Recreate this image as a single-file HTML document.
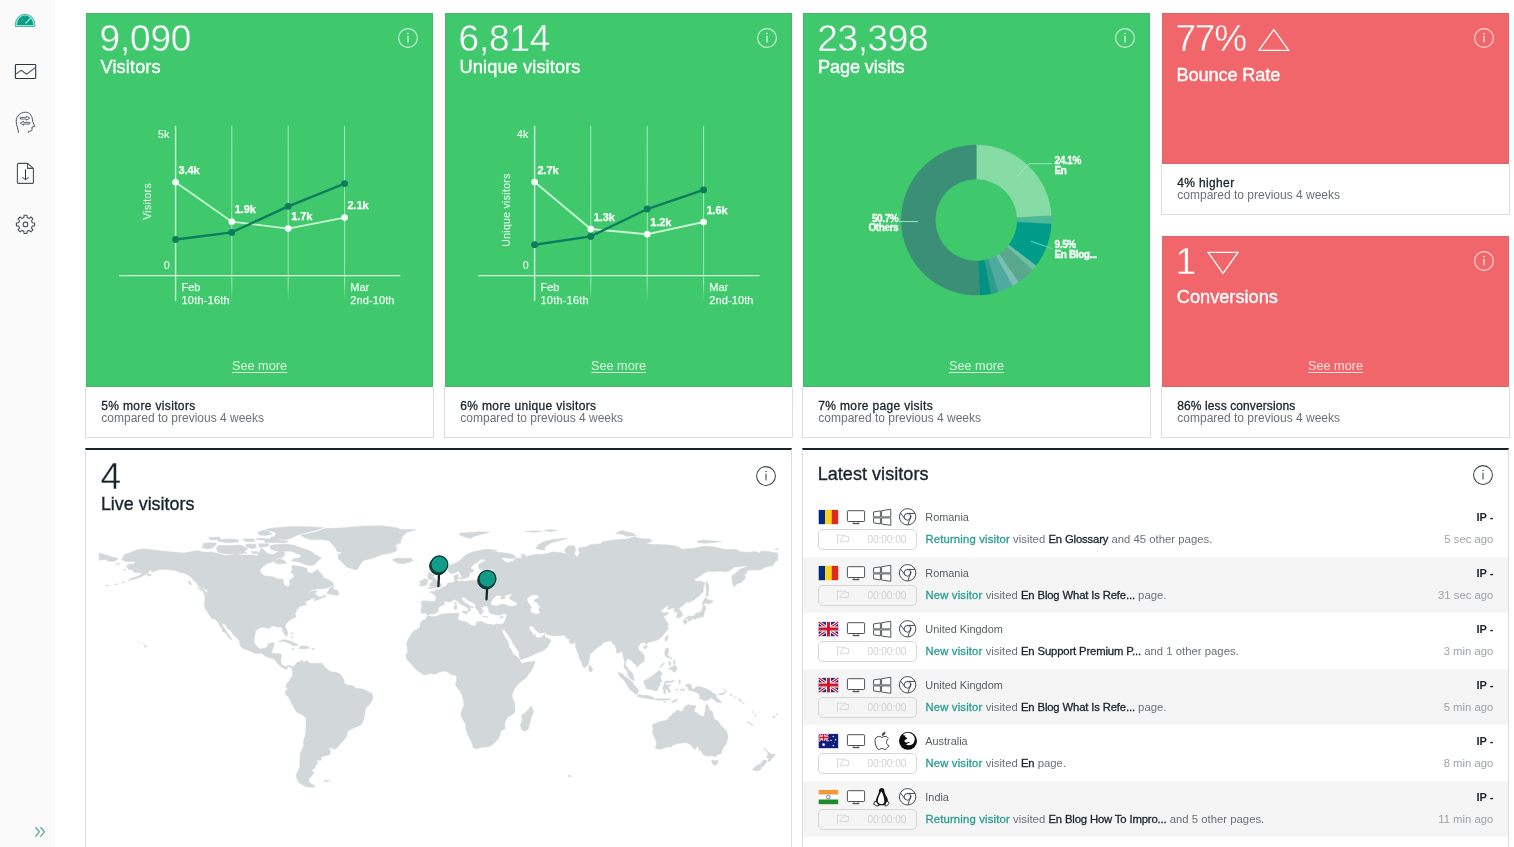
<!DOCTYPE html>
<html lang="en">
<head>
<meta charset="utf-8">
<title>Dashboard</title>
<style>
*{box-sizing:border-box;margin:0;padding:0}
html,body{width:1514px;height:847px;overflow:hidden;background:#fff}
body{font-family:"Liberation Sans",sans-serif;color:#1a242d;position:relative}
.abs{position:absolute}
#side{left:0;top:0;width:54.5px;height:847px;background:#fafafa}
#side svg{position:absolute;overflow:visible}
.card{position:absolute;width:349px;background:#fff;border:1px solid #dcdcdc}
.card .top{position:absolute;left:-1px;top:-1px;width:349px;color:#fff;box-shadow:inset 0 1px 0 rgba(120,120,120,.25),inset 0 -1px 0 rgba(120,120,120,.25)}
.card .top::before{content:"";position:absolute;left:0;top:0;width:1px;height:100%;background:#fff;box-shadow:1px 0 0 rgba(120,120,120,.25);z-index:3}
.card .top::after{content:"";position:absolute;right:0;top:0;width:1px;height:100%;background:#fff;box-shadow:-1px 0 0 rgba(120,120,120,.25);z-index:3}
.green{background:#3fc96c}
.red{background:#f0666a}
.big{position:absolute;left:14.6px;font-size:37px;line-height:40px;white-space:nowrap;letter-spacing:-0.2px;-webkit-text-stroke:0.4px #3fc96c}
.red .big{-webkit-text-stroke-color:#f0666a;letter-spacing:-1.3px}
.panel .big{-webkit-text-stroke-color:#fff}
.lbl{position:absolute;left:15.5px;font-size:18.2px;line-height:22px;white-space:nowrap;letter-spacing:0.12px;-webkit-text-stroke:0.35px currentColor}
.info{position:absolute;width:20px;height:20px;overflow:visible}
.more{position:absolute;left:0;width:100%;text-align:center;font-size:12.7px;line-height:16px;color:#d9f5e2;text-decoration:underline;text-underline-offset:2px}
.red .more{color:#fde0e1}
.foot1{position:absolute;left:15.3px;font-size:12px;line-height:14px;white-space:nowrap;color:#1a242d;-webkit-text-stroke:0.3px #1a242d;letter-spacing:0.35px}
.foot2{position:absolute;left:15.3px;font-size:12px;line-height:14px;white-space:nowrap;color:#6b7176}
.chart{position:absolute;left:0;top:0;width:349px;height:374px;overflow:visible}
.chart text{font-family:"Liberation Sans",sans-serif;fill:#fff}
.panel{position:absolute;background:#fff;border-left:1px solid #dcdcdc;border-right:1px solid #dcdcdc;border-top:2.6px solid #1a242d}
.row{position:absolute;left:0;width:705px;height:56px}
.row.alt{background:#f5f5f5}
.row svg{position:absolute;overflow:visible}
.cty{position:absolute;left:122.3px;top:9.1px;font-size:10.9px;line-height:14px;color:#585e63;white-space:nowrap}
.msg{position:absolute;left:122.4px;top:31.3px;font-size:11.3px;line-height:14px;color:#6b7176;white-space:nowrap;letter-spacing:0.02px}
.msg b{font-weight:normal;color:#1a242d;-webkit-text-stroke:0.3px #1a242d;letter-spacing:-0.15px}
.msg i{font-style:normal;color:#2a9d8f;-webkit-text-stroke:0.3px #2a9d8f;letter-spacing:0.17px}
.ip{position:absolute;right:14.7px;top:9.2px;font-size:11px;line-height:14px;font-weight:bold;color:#1a242d;white-space:nowrap}
.ago{position:absolute;right:14.7px;top:31.4px;font-size:11.3px;line-height:14px;color:#9ea3a7;white-space:nowrap}
.tbox{position:absolute;left:15.3px;top:28.4px;width:99px;height:21px;border:1px solid #d6d6d6;border-radius:5px;background:transparent}
.tbox span{position:absolute;left:48.1px;top:2.6px;font-size:10px;line-height:13px;color:#cdd0d2;white-space:nowrap}
</style>
</head>
<body>
<div id="side" class="abs">
<svg style="left:0;top:0" width="55" height="847" viewBox="0 0 55 847">
<path d="M15.3 26.5V24.6A9.8 10.4 0 0 1 34.9 24.6V26.5Z" fill="#86ead6" stroke="#2f9686" stroke-width="0.7"/>
<path d="M17 24.9A8.1 9.5 0 0 1 33.2 24.9Z" fill="#0e9a88"/>
<path d="M25.4 23.6L31.3 17.6" stroke="#86ead6" stroke-width="1.4" fill="none"/>
<path d="M21.5 18.2L23.6 21.2M25 15.6V17.2M18.6 21.6L20 22.4" stroke="#3cb9a6" stroke-width="0.8" fill="none"/>
<rect x="15.4" y="64.5" width="20.3" height="14" rx="0.8" fill="#fff" stroke="#2c363d" stroke-width="1.1"/>
<path d="M15.4 74.4L21.3 70.2L26.5 74.2L35.7 67.4" fill="none" stroke="#4d575d" stroke-width="1.1" stroke-linejoin="round"/>
<path d="M18.4 132.8C18.6 129 16.2 126 16.2 121.5C16.2 116 20.5 112.2 25.6 112.2C30 112.2 32.6 116.4 32.5 121.2L34.8 126.4L32 127V130C32 131.2 30 131.2 28.6 131.3L28.4 132.8" fill="none" stroke="#4d575d" stroke-width="1" stroke-linejoin="round"/>
<path d="M20.2 117.4H26.4V116.2L29.8 118.2L26.4 120.2V119H20.2ZM29.8 122.4H23.6V121.2L20.2 123.2L23.6 125.2V124H29.8Z" fill="#fff" stroke="#3d474d" stroke-width="0.8" stroke-linejoin="round"/>
<path d="M18.4 163.4H27.6L33.4 168.4V182.4A1 1 0 0 1 32.4 183.4H18.4A1 1 0 0 1 17.4 182.4V164.4A1 1 0 0 1 18.4 163.4ZM27.6 163.4V168.4H33.4" fill="#fff" stroke="#4a5157" stroke-width="1.1" stroke-linejoin="round"/>
<path d="M25.5 169.3V179.6M22.3 177.2L25.5 179.8L28.7 177.2" fill="none" stroke="#2c363d" stroke-width="1"/>
<path d="M23.87 217.59L24.06 215.31L26.94 215.31L27.13 217.59L29.16 218.43L30.91 216.96L32.94 218.99L31.47 220.74L32.31 222.77L34.59 222.96L34.59 225.84L32.31 226.03L31.47 228.06L32.94 229.81L30.91 231.84L29.16 230.37L27.13 231.21L26.94 233.49L24.06 233.49L23.87 231.21L21.84 230.37L20.09 231.84L18.06 229.81L19.53 228.06L18.69 226.03L16.41 225.84L16.41 222.96L18.69 222.77L19.53 220.74L18.06 218.99L20.09 216.96L21.84 218.43Z" fill="none" stroke="#4a5157" stroke-width="1.1" stroke-linejoin="round"/>
<circle cx="25.5" cy="224.4" r="2.3" fill="#fff" stroke="#4a5157" stroke-width="1.1"/>
<path d="M35.4 827.2L39.4 831.8L35.4 836.6M40.4 827.2L44.4 831.8L40.4 836.6" fill="none" stroke="#5aa89a" stroke-width="1.3"/>
</svg>
</div>

<!-- CARD 1 -->
<div class="card" style="left:85px;top:13px;height:425px">
 <div class="top green" style="height:374px">
  <div class="big" style="top:6.3px">9,090</div>
  <div class="lbl" style="top:43px">Visitors</div>
  
  <svg class="chart" viewBox="0 0 349 374">
<defs><linearGradient id="gfV" x1="0" y1="0" x2="0" y2="1"><stop offset="0" stop-color="#fff" stop-opacity="0.55"/><stop offset="0.9" stop-color="#fff" stop-opacity="0.5"/><stop offset="1" stop-color="#fff" stop-opacity="0"/></linearGradient></defs>
<rect x="146.3" y="113" width="1" height="175" fill="url(#gfV)"/>
<rect x="202.7" y="113" width="1" height="175" fill="url(#gfV)"/>
<rect x="259.1" y="113" width="1" height="175" fill="url(#gfV)"/>
<path d="M90.6 112.8V287.8" stroke="#d2f5de" stroke-width="1.4" fill="none"/>
<path d="M34.1 262.6H315.4" stroke="#d2f5de" stroke-width="1.3" fill="none"/>
<polyline points="90.6,169.2 146.8,208.7 203.2,215.6 259.6,204.6" fill="none" stroke="#c8f3d5" stroke-width="1.9"/>
<polyline points="90.6,226.5 146.8,219.4 203.2,193.3 259.6,170.6" fill="none" stroke="#0d7c5d" stroke-width="2.4"/>
<circle cx="90.6" cy="226.5" r="3.4" fill="#0d7c5d"/>
<circle cx="146.8" cy="219.4" r="3.4" fill="#0d7c5d"/>
<circle cx="203.2" cy="193.3" r="3.4" fill="#0d7c5d"/>
<circle cx="259.6" cy="170.6" r="3.4" fill="#0d7c5d"/>
<circle cx="90.6" cy="169.2" r="3.3" fill="#fbfffc"/>
<circle cx="146.8" cy="208.7" r="3.3" fill="#fbfffc"/>
<circle cx="203.2" cy="215.6" r="3.3" fill="#fbfffc"/>
<circle cx="259.6" cy="204.6" r="3.3" fill="#fbfffc"/>
<text x="93.6" y="160.7" font-size="11" font-weight="bold" letter-spacing="-0.1" stroke="#fff" stroke-width="0.25">3.4k</text>
<text x="149.8" y="200.2" font-size="11" font-weight="bold" letter-spacing="-0.1" stroke="#fff" stroke-width="0.25">1.9k</text>
<text x="206.2" y="207.1" font-size="11" font-weight="bold" letter-spacing="-0.1" stroke="#fff" stroke-width="0.25">1.7k</text>
<text x="262.6" y="196.1" font-size="11" font-weight="bold" letter-spacing="-0.1" stroke="#fff" stroke-width="0.25">2.1k</text>
<text x="84.3" y="125.1" font-size="10.7" text-anchor="end" fill-opacity="0.88" stroke="#fff" stroke-width="0.2" stroke-opacity="0.7">5k</text>
<text x="84.7" y="255.5" font-size="10.7" text-anchor="end" fill-opacity="0.88" stroke="#fff" stroke-width="0.2" stroke-opacity="0.7">0</text>
<text transform="translate(66.2 188.4) rotate(-90)" font-size="10.4" text-anchor="middle" letter-spacing="0.35" fill-opacity="0.82" stroke="#fff" stroke-width="0.2" stroke-opacity="0.6">Visitors</text>
<text x="96.5" y="277.8" font-size="11" fill-opacity="0.88" stroke="#fff" stroke-width="0.25" stroke-opacity="0.8">Feb</text>
<text x="96.5" y="290.6" font-size="11" fill-opacity="0.88" stroke="#fff" stroke-width="0.25" stroke-opacity="0.8" letter-spacing="0.2">10th-16th</text>
<text x="265.3" y="277.8" font-size="11" fill-opacity="0.88" stroke="#fff" stroke-width="0.25" stroke-opacity="0.8">Mar</text>
<text x="265.3" y="290.6" font-size="11" fill-opacity="0.88" stroke="#fff" stroke-width="0.25" stroke-opacity="0.8" letter-spacing="0.1">2nd-10th</text>
</svg><svg class="info" style="left:313px;top:15.1px" viewBox="0 0 20 20"><circle cx="10" cy="10" r="9.4" fill="none" stroke="#fff" stroke-opacity="0.72" stroke-width="1.2"/><circle cx="10" cy="5.5" r="0.85" fill="#fff" fill-opacity="0.9"/><path d="M10 7.8V14.6" stroke="#fff" stroke-opacity="0.9" stroke-width="1.2" fill="none"/></svg>
  <div class="more" style="top:344.9px">See more</div>
 </div>
 <div class="foot1" style="top:385.2px">5% more visitors</div>
 <div class="foot2" style="top:397.1px">compared to previous 4 weeks</div>
</div>

<!-- CARD 2 -->
<div class="card" style="left:444px;top:13px;height:425px">
 <div class="top green" style="height:374px">
  <div class="big" style="top:6.3px">6,814</div>
  <div class="lbl" style="top:43px">Unique visitors</div>
  <svg class="chart" viewBox="0 0 349 374">
<defs><linearGradient id="gfU" x1="0" y1="0" x2="0" y2="1"><stop offset="0" stop-color="#fff" stop-opacity="0.55"/><stop offset="0.9" stop-color="#fff" stop-opacity="0.5"/><stop offset="1" stop-color="#fff" stop-opacity="0"/></linearGradient></defs>
<rect x="146.3" y="113" width="1" height="175" fill="url(#gfU)"/>
<rect x="202.7" y="113" width="1" height="175" fill="url(#gfU)"/>
<rect x="259.1" y="113" width="1" height="175" fill="url(#gfU)"/>
<path d="M90.6 112.8V287.8" stroke="#d2f5de" stroke-width="1.4" fill="none"/>
<path d="M34.1 262.6H315.4" stroke="#d2f5de" stroke-width="1.3" fill="none"/>
<polyline points="90.6,169 146.8,216 203.2,221.3 259.6,209" fill="none" stroke="#c8f3d5" stroke-width="1.9"/>
<polyline points="90.6,231.7 146.8,223.4 203.2,196 259.6,176.9" fill="none" stroke="#0d7c5d" stroke-width="2.4"/>
<circle cx="90.6" cy="231.7" r="3.4" fill="#0d7c5d"/>
<circle cx="146.8" cy="223.4" r="3.4" fill="#0d7c5d"/>
<circle cx="203.2" cy="196" r="3.4" fill="#0d7c5d"/>
<circle cx="259.6" cy="176.9" r="3.4" fill="#0d7c5d"/>
<circle cx="90.6" cy="169" r="3.3" fill="#fbfffc"/>
<circle cx="146.8" cy="216" r="3.3" fill="#fbfffc"/>
<circle cx="203.2" cy="221.3" r="3.3" fill="#fbfffc"/>
<circle cx="259.6" cy="209" r="3.3" fill="#fbfffc"/>
<text x="93.6" y="160.5" font-size="11" font-weight="bold" letter-spacing="-0.1" stroke="#fff" stroke-width="0.25">2.7k</text>
<text x="149.8" y="207.5" font-size="11" font-weight="bold" letter-spacing="-0.1" stroke="#fff" stroke-width="0.25">1.3k</text>
<text x="206.2" y="212.8" font-size="11" font-weight="bold" letter-spacing="-0.1" stroke="#fff" stroke-width="0.25">1.2k</text>
<text x="262.6" y="200.5" font-size="11" font-weight="bold" letter-spacing="-0.1" stroke="#fff" stroke-width="0.25">1.6k</text>
<text x="84.3" y="125.1" font-size="10.7" text-anchor="end" fill-opacity="0.88" stroke="#fff" stroke-width="0.2" stroke-opacity="0.7">4k</text>
<text x="84.7" y="255.5" font-size="10.7" text-anchor="end" fill-opacity="0.88" stroke="#fff" stroke-width="0.2" stroke-opacity="0.7">0</text>
<text transform="translate(66.2 197) rotate(-90)" font-size="10.4" text-anchor="middle" letter-spacing="0.35" fill-opacity="0.82" stroke="#fff" stroke-width="0.2" stroke-opacity="0.6">Unique visitors</text>
<text x="96.5" y="277.8" font-size="11" fill-opacity="0.88" stroke="#fff" stroke-width="0.25" stroke-opacity="0.8">Feb</text>
<text x="96.5" y="290.6" font-size="11" fill-opacity="0.88" stroke="#fff" stroke-width="0.25" stroke-opacity="0.8" letter-spacing="0.2">10th-16th</text>
<text x="265.3" y="277.8" font-size="11" fill-opacity="0.88" stroke="#fff" stroke-width="0.25" stroke-opacity="0.8">Mar</text>
<text x="265.3" y="290.6" font-size="11" fill-opacity="0.88" stroke="#fff" stroke-width="0.25" stroke-opacity="0.8" letter-spacing="0.1">2nd-10th</text>
</svg><svg class="info" style="left:313px;top:15.1px" viewBox="0 0 20 20"><circle cx="10" cy="10" r="9.4" fill="none" stroke="#fff" stroke-opacity="0.72" stroke-width="1.2"/><circle cx="10" cy="5.5" r="0.85" fill="#fff" fill-opacity="0.9"/><path d="M10 7.8V14.6" stroke="#fff" stroke-opacity="0.9" stroke-width="1.2" fill="none"/></svg>
  <div class="more" style="top:344.9px">See more</div>
 </div>
 <div class="foot1" style="top:385.2px">6% more unique visitors</div>
 <div class="foot2" style="top:397.1px">compared to previous 4 weeks</div>
</div>

<!-- CARD 3 -->
<div class="card" style="left:802px;top:13px;height:425px">
 <div class="top green" style="height:374px">
  <div class="big" style="top:6.3px;left:15.2px;letter-spacing:-0.35px">23,398</div>
  <div class="lbl" style="top:43px;left:16.1px;letter-spacing:-0.15px">Page visits</div>
  <svg class="chart" viewBox="0 0 349 374">
<path d="M174.3 131.9A75.1 75.1 0 0 1 249.28 202.68L215.23 204.64A41 41 0 0 0 174.3 166Z" fill="#87dca6" stroke="#87dca6" stroke-width="0.4"/>
<path d="M249.28 202.68A75.1 75.1 0 0 1 249.29 211.06L215.24 209.22A41 41 0 0 0 215.23 204.64Z" fill="#4db798" stroke="#4db798" stroke-width="0.4"/>
<path d="M249.29 211.06A75.1 75.1 0 0 1 233.96 252.61L206.87 231.9A41 41 0 0 0 215.24 209.22Z" fill="#009b89" stroke="#009b89" stroke-width="0.4"/>
<path d="M233.96 252.61A75.1 75.1 0 0 1 230.37 256.96L204.91 234.27A41 41 0 0 0 206.87 231.9Z" fill="#6cc0a3" stroke="#6cc0a3" stroke-width="0.4"/>
<path d="M230.37 256.96A75.1 75.1 0 0 1 216.4 269.19L197.29 240.95A41 41 0 0 0 204.91 234.27Z" fill="#5aa78d" stroke="#5aa78d" stroke-width="0.4"/>
<path d="M216.4 269.19A75.1 75.1 0 0 1 210.36 272.87L193.99 242.96A41 41 0 0 0 197.29 240.95Z" fill="#7bbfb2" stroke="#7bbfb2" stroke-width="0.4"/>
<path d="M210.36 272.87A75.1 75.1 0 0 1 196.01 278.89L186.15 246.25A41 41 0 0 0 193.99 242.96Z" fill="#4fab9f" stroke="#4fab9f" stroke-width="0.4"/>
<path d="M196.01 278.89A75.1 75.1 0 0 1 188.89 280.67L182.26 247.22A41 41 0 0 0 186.15 246.25Z" fill="#2b9e8d" stroke="#2b9e8d" stroke-width="0.4"/>
<path d="M188.89 280.67A75.1 75.1 0 0 1 177.58 282.03L176.09 247.96A41 41 0 0 0 182.26 247.22Z" fill="#009182" stroke="#009182" stroke-width="0.4"/>
<path d="M177.58 282.03A75.1 75.1 0 1 1 174.3 131.9L174.3 166A41 41 0 1 0 176.09 247.96Z" fill="#3a8f76" stroke="#3a8f76" stroke-width="0.4"/>
<path d="M214.7 163.7L227 150.7H250" stroke="#9fe8bb" stroke-width="1" fill="none"/>
<path d="M228.9 228.2L250.6 235.9" stroke="#5fd9c4" stroke-width="1" fill="none"/>
<path d="M97 208.6H116" stroke="#9fe8bb" stroke-width="1" fill="none"/>
<text x="252.6" y="150.9" font-size="10" font-weight="bold" letter-spacing="-0.4" stroke="#fff" stroke-width="0.3">24.1%</text>
<text x="252.6" y="160.9" font-size="10" font-weight="bold" letter-spacing="-0.4" stroke="#fff" stroke-width="0.3">En</text>
<text x="252.6" y="234.7" font-size="10" font-weight="bold" letter-spacing="-0.4" stroke="#fff" stroke-width="0.3">9.5%</text>
<text x="252.6" y="244.7" font-size="10" font-weight="bold" letter-spacing="-0.4" stroke="#fff" stroke-width="0.3">En Blog...</text>
<text x="96.3" y="208.6" text-anchor="end" font-size="10" font-weight="bold" letter-spacing="-0.4" stroke="#fff" stroke-width="0.3">50.7%</text>
<text x="96.3" y="218.2" text-anchor="end" font-size="10" font-weight="bold" letter-spacing="-0.4" stroke="#fff" stroke-width="0.3">Others</text>
</svg><svg class="info" style="left:313px;top:15.1px" viewBox="0 0 20 20"><circle cx="10" cy="10" r="9.4" fill="none" stroke="#fff" stroke-opacity="0.72" stroke-width="1.2"/><circle cx="10" cy="5.5" r="0.85" fill="#fff" fill-opacity="0.9"/><path d="M10 7.8V14.6" stroke="#fff" stroke-opacity="0.9" stroke-width="1.2" fill="none"/></svg>
  <div class="more" style="top:344.9px">See more</div>
 </div>
 <div class="foot1" style="top:385.2px">7% more page visits</div>
 <div class="foot2" style="top:397.1px">compared to previous 4 weeks</div>
</div>

<!-- CARD 4 -->
<div class="card" style="left:1161px;top:13px;height:202px">
 <div class="top red" style="height:151px">
  <div class="big" style="top:6.3px">77%</div>
  <div class="lbl" style="top:50.6px;letter-spacing:-0.13px">Bounce Rate</div>
  <svg class="chart" viewBox="0 0 349 374"><path d="M97.9 37.3L112.8 16.5L127.7 37.3Z" fill="none" stroke="#fff" stroke-width="1.3" stroke-linejoin="miter"/></svg><svg class="info" style="left:313px;top:15.1px" viewBox="0 0 20 20"><circle cx="10" cy="10" r="9.4" fill="none" stroke="#fff" stroke-opacity="0.72" stroke-width="1.2"/><circle cx="10" cy="5.5" r="0.85" fill="#fff" fill-opacity="0.9"/><path d="M10 7.8V14.6" stroke="#fff" stroke-opacity="0.9" stroke-width="1.2" fill="none"/></svg>
 </div>
 <div class="foot1" style="top:162.3px">4% higher</div>
 <div class="foot2" style="top:174.2px">compared to previous 4 weeks</div>
</div>

<!-- CARD 5 -->
<div class="card" style="left:1161px;top:236px;height:202px">
 <div class="top red" style="height:151px">
  <div class="big" style="top:6.3px">1</div>
  <div class="lbl" style="top:49.9px;left:15.8px;letter-spacing:0">Conversions</div>
  <svg class="chart" viewBox="0 0 349 374"><path d="M47.1 16.3L77.1 16.3L62 37.3Z" fill="none" stroke="#fff" stroke-width="1.3" stroke-linejoin="miter"/></svg><svg class="info" style="left:313px;top:15.3px" viewBox="0 0 20 20"><circle cx="10" cy="10" r="9.4" fill="none" stroke="#fff" stroke-opacity="0.72" stroke-width="1.2"/><circle cx="10" cy="5.5" r="0.85" fill="#fff" fill-opacity="0.9"/><path d="M10 7.8V14.6" stroke="#fff" stroke-opacity="0.9" stroke-width="1.2" fill="none"/></svg>
  <div class="more" style="top:121.9px">See more</div>
 </div>
 <div class="foot1" style="top:162.3px;letter-spacing:0.1px">86% less conversions</div>
 <div class="foot2" style="top:174.2px">compared to previous 4 weeks</div>
</div>

<!-- LIVE PANEL -->
<div class="panel" style="left:85px;top:448.2px;width:707px;height:410px">
 <div class="big" style="top:6.35px;color:#1a242d">4</div>
 <div class="lbl" style="top:42.7px;left:14.9px;color:#1a242d;font-size:17.9px;letter-spacing:0">Live visitors</div>
 <svg class="abs" style="left:0;top:0;overflow:visible" width="706" height="396" viewBox="0 0 706 396">
<path fill="#d2d7d9" stroke="#d2d7d9" stroke-width="0.5" stroke-linejoin="round" d="M35.8 109.5L38.6 104.5L45.2 102.2L50.9 99.9L57.5 98.8L66 99.7L73.5 100.7L86.7 102L98 103.1L107.4 101.2L111.2 100.5L116.9 102L126.3 102.2L135.7 104.5L138.6 105.4L145.2 105L148.9 103.9L156.5 105L167.8 105L171.5 106.2L172.5 103.5L175.3 97.9L179.1 101.2L181.9 103.7L186.6 104.5L190.4 102.6L193.2 101.6L197.9 102L199.2 104.5L196 107.8L190.4 108.4L187.6 111.6L181.9 113.3L177.2 116.3L174.2 120.1L174.2 122.4L178.1 125.8L186.6 126.7L192.3 129L197 129.1L197.6 133.3L199.4 135.9L202.5 136.5L204 134.2L203 130.5L207.4 127.6L208.1 124.8L204.9 122.4L206.4 119.2L205.5 115.6L211.1 115.8L216.8 117.1L220.6 118.2L221.5 122L225.8 123.3L230 120.5L230.9 119.3L235.6 123.9L237.5 127.6L243.2 130.3L246.9 132.9L247.5 135.2L245.1 136.3L239.4 138.6L231.9 138.6L226.6 139.7L222.4 142.3L219.6 144.2L222.4 143.1L226.2 141L230.9 140.5L230.9 142.2L228.1 142.7L230 144.6L231.9 146.5L236.6 147.1L238.5 144.6L239.6 146.5L236.6 148L231.9 149.5L228.1 151L228.1 149.3L230.9 147.6L226.2 148.4L222.4 150.3L219.6 151.6L219 153.1L220.6 154L220.6 154.8L217.7 155.2L213 156.7L212.6 158.7L210.2 159.3L210.9 160.8L209.2 163.3L209.2 164.4L210.2 166.8L207.4 168.2L204.5 169.5L201.7 171.9L199.2 174.8L199.2 176.7L200.8 179.9L201.7 182.7L201.1 185.7L199.4 185.7L198.3 183.6L196.4 180.8L196.6 178.5L194.2 176.7L191.3 177.2L188.5 175.9L184.7 176.1L184.2 178.3L181 178L176.3 177.2L173.4 178.2L169.7 180.8L169.1 184.2L168.3 188L168.1 191.2L169.3 194.6L171.5 197.4L174.4 198.9L178.1 198.3L181 197.4L181.9 194L185.7 192.7L188.5 192.9L187.6 196.4L186.6 199.3L185.3 203L190.4 203.4L194.2 203.6L195.7 204.9L195.1 208.7L194.7 212.5L196.4 214.9L198.9 216.2L201.7 215.9L203.6 215.3L206.6 216.8L207 218.3L204.9 217.9L202.6 216.6L201.1 217.7L201.1 219.4L198.9 218.9L196 217.6L194.7 216.2L192.3 214.3L190.8 212.8L189.4 210.6L187.6 208.7L185.7 208.3L182.9 207.4L179.1 205.9L175.3 203L172.5 203.4L169.7 203.4L165.9 201.9L161.2 200L157.4 198.7L154.6 196.4L153.6 194.6L154 192.7L152.7 189.8L149.9 187L147 184.8L146.1 182.3L144.2 180.4L141.4 178.5L139.5 174.8L136.3 173.4L136.3 175.7L138.6 178.5L140.4 181.4L142.7 184.2L144.2 187L146.1 189.5L145.2 190L143.3 188L141.4 186.1L140.4 183.6L137.6 181.9L135.7 180.4L136.7 179.1L134.2 176.7L132.9 173.8L131.6 171.7L129.1 169.1L125.4 168.2L123.5 165.3L121.8 162.5L120.6 160.6L118.8 157.8L118.2 154L118.8 150.3L118.8 146.1L117.4 142.2L120.6 142.2L121.6 144L121.6 140.8L118.8 138.9L115 137.4L112.2 136.1L111.2 133.3L107.4 130.5L105.6 127.6L101.8 124.8L98 122.9L94.3 122.4L89.5 120.5L84.8 120.1L79.2 119.5L73.5 119.2L69.8 121L66 122L65 119.2L68.8 117.8L64.1 120.1L62.2 122.9L57.5 125.4L53.7 127.6L49 129L44.3 129.9L41.9 130.5L45.2 128.2L50 127.1L54.7 124.8L55.6 122.6L52.8 122.7L48.1 122.6L47.1 120.1L42.4 119.2L40.5 116.3L42.4 114.4L49 113.5L49 111.6L45.2 111.6L39.6 111.6ZM214.9 85.2L228.1 82.4L239.4 78.6L258.2 77.7L277.1 76L295.9 75.8L311 77.7L314.8 79.6L329.9 79.6L320.5 82.4L316.7 86.2L314.8 89.9L314.8 92.8L309.1 95.6L311 98.4L310.1 100.9L303.5 103.5L295.9 104.6L290.3 106.9L282.8 109.2L277.1 110.7L274.3 114.4L271.4 119.2L269.6 120.1L265.8 118.6L261.1 117.6L258.2 114.4L255.4 111.6L252.6 108.8L251.7 105L256.4 102.2L250.7 101.2L249.8 98.4L246.9 94.7L243.2 90.9L235.6 89.4L224.3 89.6L218.7 87.7ZM201.7 94.3L209.2 95.6L216.8 98.4L224.3 100.9L230 105L235.6 107.8L231.9 110.7L229 114.4L224.3 115.8L218.7 114.4L213 112L205.5 111.1L207.4 108.8L214 107.8L214.9 105L205.5 101.2L192.3 101.2L184.7 99.4L183.8 95.6L192.3 94.3ZM132 95.6L145.2 95.6L154.6 95L162.1 98.4L158.3 101.2L161.2 103.1L152.7 103.7L139.5 103.9L132 102.2L130.1 98.4ZM115.9 97.5L120.6 99L125.4 98.4L128.2 96.5L130.1 94.1L131 93.3L124.4 92.8L117.8 93.1ZM184.7 89.4L201.7 89.6L205.5 88.1L211.1 85.2L220.6 82.4L231.9 79.6L237.5 77.7L224.3 76.7L205.5 76.6L186.6 78.1L179.1 79.6L186.6 81.5L190.4 83.3L188.5 86.2L184.7 87.5ZM179.1 92.4L199.8 92.8L202.3 91.3L196 90.3L184.7 89L171.5 88.2L169.7 89.6L178.1 90.3ZM171.5 82.4L177.2 79.9L182.9 81.5L185.7 84.3L179.1 85.6L173.4 84.9ZM172.5 93.7L182.9 93.7L181.9 96.2L173.4 97.5ZM160.2 94.1L169.7 94.1L170.6 97.5L165.9 98.8L160.2 96.5ZM132 89.6L145.2 89L152.7 89.9L152.7 91.8L145.2 92.8L137.6 92.2L132 90.9ZM156.5 89L167.8 88.8L168.7 91.4L160.2 91.8ZM122.5 87.5L133.8 87.1L133.8 89.6L124.4 89.9ZM164.9 101.6L171.5 101.6L172.5 103.5L166.8 103.5ZM188.5 109.7L194.2 108.8L199.8 111.6L199.8 113.5L192.3 114.1L188.5 112.6ZM240.7 143.3L244.1 138L247.9 135.9L246.9 138.9L251.7 140.3L252.6 143.7L252.6 145.2L246.9 144.8ZM110.7 137.6L116.9 138.9L120.1 142L116.9 141.4ZM101.8 131.4L104.2 131.4L105.6 134.8L103.7 134.2ZM61.3 124.2L65.4 123.9L65 125.4L61.6 126.1ZM192.3 191.7L197.9 189.5L203.6 190.8L207.4 192.3L212.6 195.1L206.4 195.7L205.5 194.2L197.9 191.2L194.2 192.1ZM212.3 198.5L215.8 195.7L220.6 195.9L223.6 198.1L218.7 198.9ZM204.9 198.5L208.7 198.9L207.4 199.6ZM225.8 198.3L228.8 198.5L228.1 199.5L225.8 199.3ZM204.5 182.9L207 183.1L206.4 184.2ZM205.1 186.1L206.4 186.5L205.8 188.3ZM306.3 109.7L311 108L318.6 108.4L325.2 108.2L327.1 110.7L324.2 112L317.6 113.7L310.1 112.9L311 111.6L307.3 110.9ZM206.6 216.8L209.2 215.3L210.2 213L213 211.9L216.8 210.2L217.7 212.5L220.6 210.6L224.3 213.4L228.1 213.2L231.9 213.4L235.6 213L237.5 215.3L239.4 217.2L242.2 220L245.1 221.9L250.7 222.3L254.5 224.2L256.4 227.5L258.2 229.8L258.2 233.2L261.1 235.1L267.7 236L269.6 238.3L275.2 238.7L279.9 240.2L282.8 242.2L286.1 243.6L286.9 247.3L286 251.1L282.8 254.9L279.9 257.7L279 261.5L278.6 266.2L277.1 270.9L275.2 274.7L271.4 276.6L267.7 278.1L263.9 279.8L261.1 282.2L260.7 286.5L257.3 290.7L254.1 294.1L251.7 297.3L248.8 299L245.1 298.2L242.4 297.3L244.7 301.4L243.7 304.8L235.6 306.7L235.1 310.1L230 310.5L232.2 313.3L229.6 315.2L229 318L225.3 319.9L228.1 322.7L225.3 326.5L222.4 329.3L223.6 331.8L223.4 332.4L229.6 336.5L226.2 337.4L220.6 336.9L216.8 335L213 332.7L211.1 329.3L210.2 324.6L212.1 320.9L214 316.1L213.6 312.4L214 308.6L214 304.8L215.5 301.1L217.7 295.4L217.7 289.7L219.6 284.1L220 277.5L220.2 270.9L219.8 267.7L216.8 265.2L211.1 262.2L208.7 259.2L207 255.8L204.5 251.1L202.3 246.8L199.8 244.5L199.2 241.7L201.1 239.6L201.7 237.5L199.8 237.3L200.2 235.1L201.7 232.3L203.6 230.7L204.5 228.5L206.8 225.7L206.4 221.9L206.6 220L205.7 219.6ZM237.5 330.3L243.2 330.3L242.2 331.6L238.5 331.6ZM341.4 165.7L348.7 166.8L354.4 164.4L358.2 163.6L365.7 163.5L371.4 162.9L373.2 163.6L371.7 168.5L373.2 170.4L377 171.2L381.3 172.3L384.5 175L388.3 176.1L390.2 174.8L390.6 171.9L395.9 171.6L399.6 173.4L407.2 175L410.9 173.8L413.4 174.4L417 174.2L414 176.8L415.6 180.4L417.5 184.2L419.4 188L422.1 191.7L422.8 194.6L423 197.8L425.3 199.6L427 204L429.8 205.9L433 208.7L434.1 209.6L434.1 211.5L436.4 213.4L441.1 212.1L444.9 211.9L449 210.8L448.6 213.4L446.8 218.1L443 223.8L439.2 228.5L435.4 231.3L431.7 234.7L429.8 237L427 241.7L426 245.5L427 249.2L428.8 253L428.8 257.7L429.2 261.5L427 264.3L422.2 267.1L419.4 270.9L418.5 274.7L419.4 278.4L414.7 281.3L414.3 284.1L412.8 287.9L410 291.6L406.2 295L401.5 296.9L395.9 297.3L390.2 298.8L387.2 297.7L386.4 294.5L384.5 289.7L381.7 285L379.8 278.4L379.8 274.7L376.1 268.1L374.7 264.3L376.1 259.6L377.9 255.8L377.6 251.1L375.7 244.5L375.1 242.6L371.4 237.9L369.5 234.7L370.4 231.3L370.8 227.5L369.1 224.7L365.7 224.9L362.9 222.8L360 221.1L356.3 221.3L352.5 222.5L348.7 224.2L345 223.4L338.4 224.9L335.5 223.4L330.8 220.2L328 217.2L324.8 213.4L321 209.6L319.5 205.5L321.4 203L321.4 197.4L320.5 193.6L322.3 188.9L325.2 184.2L328 181L331.8 178.9L334 176.7L334 173.8L336.5 170.4L339.7 169.1ZM445.4 255.8L447.7 262.4L445.8 265.2L444.9 269L442 279.4L438.3 281.3L435.4 279.4L434.5 274.7L436.4 270L435.4 265.2L439.2 263L443 258.6ZM335.5 163.5L334.6 160.3L335.9 155.9L335 152.1L337.4 150.8L343.1 151.2L349.1 151.4L350.2 147.4L347.8 144L343.6 142L346.8 141.2L349.5 141.6L349.1 139.5L352.9 139.9L355.5 138L357.2 136.9L359.3 136.3L361 134.2L361.5 133.3L365.7 132.4L368.5 131.8L368.9 129.7L367.8 128.4L368 125.8L371 124.8L372.5 124.4L371.9 126.7L372.9 127.6L371 129.5L371.4 130.5L373.2 131.4L376.1 130.7L379.3 131.6L383.6 130.5L387.4 129.9L389.3 130.7L392.1 129.5L392.1 126.1L393.6 124.6L396.2 125.8L398.3 124.8L398.1 123.3L396.8 121.6L401.5 120.9L405.3 120.9L409.4 120.3L406.8 119.2L401.5 119.3L395.9 120.3L392.7 118.8L392.7 116.3L392.5 114.4L398.7 111.1L400.2 109.7L396.8 109.2L394 109.5L392.7 111.6L387.4 114.4L384.9 117.3L384.9 118.8L387.9 120.1L386.4 122L383.6 122.9L383.6 125.8L382.7 127.3L379.8 127.5L379.3 128.8L377 128.8L376.1 127.1L374.2 123.9L373.2 122L372.3 121L370.4 122L367.6 123.7L363.8 123.3L362.3 121L361.9 118.2L362.3 116L365.7 114.4L369.5 113.1L372.3 111.6L375.1 109.4L377 107.3L379.8 105L382.7 103.5L386.4 102L391.1 100.9L395.9 100.1L400.6 99.2L405.3 99.4L410.9 100.7L409.1 101.8L414.7 102.4L420.4 102.9L427.9 105L430.2 107.3L427.9 108.4L422.2 108.2L416.6 107.5L414.7 108.4L417.5 110.1L418.5 111.8L423.2 112.7L424.1 111.4L427.9 111.2L428.5 109.2L432.6 108L435.4 108.4L435.8 106L435.1 104.1L439.2 104.5L440.2 106.9L443 105.8L452.4 103.9L454.3 104.6L461.8 103.5L466.5 101.8L473.1 102.6L478.8 103.5L481.6 104.6L478.8 101.8L478.8 99.4L482.6 95.6L488.2 96L489.7 99.4L488.2 104.1L491 106.9L492 105.4L493.9 103.1L492 98.4L494.8 97.5L499.5 97.1L504.2 94.7L514.6 93.7L516.5 91.8L527.8 89.9L541 89L549.1 86.7L554.2 88.4L563.6 89L566.4 90.9L559.9 93.7L565.5 94.3L574.9 94.7L584.4 95L591.9 96.5L596.6 99.4L601.3 98.4L607 98.4L616.4 96.5L618.3 96L627.7 96.9L635.2 98.4L639 99.6L650.3 99.6L654.1 101.8L663.5 102.2L669.2 101.6L673.9 103.1L674.8 101.2L684.3 101.8L691.8 103.1L691.8 110.3L689 111.4L687.1 115.4L680.5 116.7L673.9 120.1L665.4 120.1L661.6 120.3L660.3 123.9L657.9 124.2L659.8 127.3L657.9 129.9L654.1 132.9L651.3 133.7L647.9 137.1L646.6 133.3L646 129.5L645.8 125.8L648.4 124.2L654.1 119.2L660.7 116.7L660.7 115.4L654.1 116.7L648.4 117.1L643.7 120.5L639 122L635.2 120.9L627.7 121.4L621.1 121.6L616.4 124.4L611.7 127.6L607.5 130.1L611.7 131.4L614.5 131L618.9 132.9L617.3 137.1L617.2 141.8L613.6 145.5L608.9 149.3L603.2 152.5L600.9 151.8L598.9 153.5L597 155.5L592.8 158.2L596.2 163.5L596.4 166.3L592.8 167.8L590.6 168.2L591 164.4L591.5 162.1L588.1 161.6L588.5 158.7L586.8 157.8L581.5 159.7L582.5 156.9L580.6 156.1L576.8 159.3L574.6 159.7L575.9 161.6L577.4 163.1L580.6 162.3L583.4 163.1L579.6 165.3L577.4 167.2L579.3 169.1L580.4 171.7L582.3 173.4L582.3 175.1L580.6 176.3L582.5 177L581.5 179.9L578.7 183.2L576.8 185.7L574 188.3L571.2 190L567.8 191.2L563.6 192.1L560.8 193.2L560.4 194.9L559.3 192.7L557 192.3L554.2 193.6L552.3 196.4L552.3 199.3L555.1 202.1L558 204.9L558.5 208.7L558 211.5L555.1 213.4L553.3 215.1L550.4 217L550 214.3L547.6 213.2L545.7 210.6L542.9 209.3L541.9 207.8L541 209.6L539.5 212.5L539.7 215.7L541.6 217.6L542.9 220.2L545.1 221.5L547.4 224.7L547.6 227.9L548.9 230.6L547.6 230.7L543.5 227.9L541.9 224.7L541.6 221.9L539.1 218.5L537.8 217.6L538.2 214.3L538.5 210.6L537.2 206.8L536.7 203L535.3 201.2L532.5 203L530.3 203L530.4 199.3L529.1 195.9L526.5 193.6L525.5 190.8L523.1 191.2L520.3 192.1L516.5 192.7L516.1 194.9L512.7 196.4L509 199.8L506.1 202.5L503.7 204L503.7 207.8L502.9 211.5L502 213.8L501.4 215.7L499.9 216.4L498.6 217.9L496.7 216.2L495.4 211.5L493.5 208.7L492.6 204.9L490.7 200.2L489.7 197.4L489.5 193.6L488.8 192.1L486.3 194L484.8 193.6L482.6 191.2L485 189.8L481.6 188.9L479.4 186.5L477.9 185.3L473.1 185.5L468.6 185.9L463.7 185.3L460.3 184.2L459.6 182.3L456.2 182.9L453.3 182.9L450.5 180.8L448.3 178.5L446.8 176.3L444.7 176.1L443 177L443.5 178.9L444.5 181L446.8 182.9L447.3 185.1L448.3 186.5L449.2 184.2L449.8 186.1L449.6 187.4L452.4 187.8L455.2 187.4L458.1 184.6L458.6 183.6L459 187L462.8 188.5L465.2 190.8L462.8 194.6L461.3 197.4L459 199.3L456.2 201.2L450.9 203L444.9 205.9L437.3 209.1L434.5 209.3L433.2 205.9L433 202.1L429.8 197.4L426.4 192.7L425.1 188.9L422.6 186.1L421.3 183.2L418.5 180.2L418.1 177.6L417.2 180.8L414.7 178.5L414 176.7L413.4 174.4L417 174.2L418.5 171.4L420 168.2L420.4 165.3L420.5 163.8L417.5 163.8L413.8 165.2L410 164.8L407.2 164L404.3 163.5L402.5 160.6L402.8 158.7L401.9 157.8L401.5 156.3L397.7 156.3L396.8 157.4L395.5 157L395.5 159.1L397.7 161.2L396.2 161.8L395.9 164.4L393.4 163.8L392.5 161.2L390.2 158.7L389.1 156.9L389.3 154.4L386.4 152.5L382.7 151.2L380.8 149.3L378.9 148L378.1 147.1L375.9 147.8L375.9 149.9L378.1 151.2L379.3 153.3L382.7 154.2L382.7 155.2L387.4 157.4L387.2 158.2L384.5 156.9L383.8 158.4L384.7 159.7L383 161.6L382.1 161.6L382.3 158.7L380.8 157.4L378.9 156.3L376.1 155L373.2 153.1L371.9 151.2L369.1 149.5L366.6 150.6L363.8 152L360 151.2L358.2 152.1L358.5 154.4L354 156.3L351.9 158.7L352.9 160.3L351.2 162.3L348.7 163.8L344 164L342.3 165.2L340.6 164.2L339.3 163.1ZM13.2 103.1L18.9 104.6L26.4 106.9L32.1 108.4L31.1 109.7L27.3 111.6L21.7 111.1L20.7 109.7L16 109.7L13.2 110.3ZM341.8 138.8L345.9 138.4L350.6 137.6L355 136.7L355.7 133.9L353.1 133.3L352.5 132L350.2 130.3L349.3 128.2L348.4 127.6L346.5 127.6L348.7 124.6L345.9 124.4L345 124.6L346.7 122.7L343.1 122.7L341.8 124.8L341.8 126.7L342.1 128.6L343.5 129.5L345.9 129.7L346.8 131.4L346.8 132.5L344 132.7L344.4 134.2L342.7 135.6L345.9 136.1L346.8 136.7L344 137.1ZM333.6 135.9L337.4 135.7L340.6 134.8L341.2 132.4L342.1 130.5L340.8 129.1L337.4 129.1L336.5 130.5L333.6 131L334 132.7L335 134L333.1 135ZM373.2 83.3L382.7 82.4L394 81.8L403.4 82.2L397.7 83.7L392.1 85.2L388.3 86.2L384.5 88.6L378.9 87.1L374.2 85.2ZM439.2 81.5L446.8 80.7L456.2 81.3L448.6 82.2ZM458.1 80.5L465.6 79.6L471.3 80.5L463.7 81.5ZM449.6 98.4L452.4 94.7L458.1 91.4L467.5 89.4L481.6 88.2L475 90.3L465.6 92.8L460.9 95.6L458.1 98.4L459.9 99.9L454.3 99.7ZM529.7 83.3L535.3 80.5L546.7 83.3L550.4 85.6L541 86.2L535.3 84.3ZM610.7 91.3L618.3 89.9L625.8 90.9L635.2 91.4L629.6 92.2L618.3 93.3L612.6 92.8ZM689 99.4L691.8 98.4L691.8 99.7ZM620.2 130.8L622.1 133.3L622.6 137.1L623 139.9L621.7 142.7L623 145L620.2 146.5L620.2 142.7L620.2 138.9L619.8 135.2ZM616 153.1L617.3 151.6L619.4 147.6L622.1 149.7L626.4 150.4L626.8 151.8L623 154L619.2 153.1L617.3 155ZM618.9 155.3L620.2 158.7L618.3 161.6L618.3 164.4L617.3 166.8L614.5 167.2L612.6 168L610.7 168L608.9 170.1L607 168.2L603.2 168.5L599.4 169.1L599.4 168.2L602.3 166.3L607.9 166.1L610.4 163.1L613.6 162.5L615.5 160.6L616.4 157.8L617 155.5ZM597 170.4L599.4 169.3L601.3 171L600.4 173.8L598.5 174.6L597.9 171.9ZM602.3 169.1L606 168.7L605.7 169.9L603.2 171.4L601.9 170.4ZM580.6 185.7L582.5 186.1L581.5 188.9L580.2 191.7L579.1 189.8L579.1 188ZM557.4 196.8L560.8 195.5L561.7 196.3L559.9 198.7L557.4 198.1ZM579.6 198.3L582.8 198.5L582.5 202.1L581.5 204.9L583.4 206.8L586.2 208.7L585.3 209.3L582.5 207.2L580.6 207.4L579.6 205.9L578.7 203ZM582.5 219.1L585.3 217.2L589.1 214.7L591 218.1L590 220.9L589.1 222.5L586.2 220.9L585.3 219.1L582.5 220ZM588.1 209.6L589.4 212.5L588.1 214.3L587.2 212.5ZM582.5 211L584.9 212.5L584.4 215.7L583 214.7ZM573.4 217.2L577.8 212.7L578.3 213.6L574.2 217.7ZM558 230.4L559.9 230L562.7 228.1L565.5 226.6L568.3 224.2L571.2 221.9L573 220L574.4 221.9L576.8 223.4L574.9 225.1L574.6 228.5L576.4 231.3L574 232.3L574 235.1L572.1 237.9L571.2 240.7L568.3 240.7L565.5 239.4L562.7 239.2L560.2 238.5L559.9 236L558 234.1ZM532.1 222.6L536.3 223.4L538.2 225.7L541 227.9L542.9 229.4L546.7 232.3L548.2 235.1L550.4 237.5L552.3 239.2L551.9 244.1L549.5 244.1L545.7 241.1L542.9 238.3L541 235.1L538.7 231.3L536.3 228.5L533.5 226ZM550.8 246L553.3 244.5L557 245.5L561.4 245.5L564.9 246.2L568.3 247.9L568.1 249.6L563.6 249L558 247.9L553.3 247.1ZM569.3 248.7L573 248.8L576.8 248.8L580.6 249L584.4 248.8L584.4 249.8L578.7 250L573 250.2L569.3 249.8ZM585.3 252.6L588.1 250.2L591.9 249L591 250.5L587.2 252.4ZM576.8 251.1L580.2 251.7L578.7 252.4ZM577.8 243.6L577.8 239.8L576.4 238.5L578.3 233.6L579.1 231.7L580.6 230.7L584.4 231.3L588.1 230L588.1 230.9L585.3 232.4L580.6 232.3L579.3 234.7L581.2 235.1L584.4 234.7L584.9 235.5L582.1 236.6L583.4 239.4L584.9 241.7L583.4 243.2L582.5 242.1L581.2 240.2L580.2 238.3L579.5 240.4L579.5 243.6ZM592.8 229.8L594.7 230.4L594.3 232.6L593.8 234.5L593 232.3ZM590 239.4L591.9 239.2L591.9 240.4L590 240.2ZM593.8 238.9L598.5 239.2L599.1 240.4L594.7 240ZM599.4 234.7L602.3 234L605.1 234.7L605.5 237.5L607 239.4L609.8 237.3L612.6 236.2L618.3 238.1L623.9 240.4L627.3 243.2L630.5 244.5L629.6 246L632.4 249.2L636.2 252.6L633.4 252.6L630.5 252.1L627.7 249.2L624.9 247.7L623 249.2L621.1 250.5L618.3 250.4L614.5 248.5L612.6 248.8L614.1 246.4L612.6 243.6L608.9 241.9L605.1 240.6L603.2 240.7L602.8 239.4L601.3 238.5L604.1 237.7L601.9 237.3L599.4 235.8ZM632 243.8L635.2 243.6L638.1 242.6L639.6 241.1L639.4 242.6L637.1 244.5L634.3 245.1ZM636.8 238.1L640 240.4L640.9 242.2L639.6 240.7ZM643.9 243.6L646.2 245.5L645.6 246.2L643.9 244.5ZM647.5 246.4L650 247.5L649.4 248.3ZM652.2 248.3L655 250.2L655.6 251.7L653.2 250.7ZM656.4 252.4L658.4 253.4L656.9 253.6ZM666.5 261.1L667.9 262.6L666.9 262.8ZM669.2 263.9L670.1 266.6L669.4 266.6ZM661.6 271.3L667.3 275.2L666.4 275.4L661.6 272.2ZM686.7 266.2L689.2 266.6L688.8 267.5L686.9 267.5ZM689.5 264.9L691.8 263.7L691.8 264.9ZM502.9 215.1L504.8 216.2L506.7 219.1L506.1 221.3L504.2 222.1L502.9 220.9L502.9 218.1ZM566.4 274.7L567.8 274.3L572.7 271.8L576.8 270.9L581.5 270L583 267.1L585.5 265.8L586.2 263.9L589.1 262.4L591 259.6L593.8 261.1L596.6 261.5L597.5 258.3L599.4 256.2L602.6 254.7L607 255.8L610.2 255.8L608.9 258.6L607.9 261.5L611.7 263.4L615.5 266.2L617.9 266.2L619.2 261.5L619.4 257.7L620.5 253.6L622.6 256.8L623.6 260.2L626.4 261.5L627.3 265.2L628.3 269L632.4 271.3L634.3 274.7L636.8 277.5L640.5 280.9L641.3 284.1L642 287.1L640.9 291.6L639.6 294.8L637.5 297.3L636.2 300.5L635.2 303.5L632 304.5L628.5 306.9L625.8 305.4L623 306.3L619.2 305.4L616.4 303.9L615.5 301.1L613 300.3L612.6 298.2L612.3 295.4L610.7 297.3L608.9 299.2L607.4 298.4L605.5 295.4L602.3 293.5L599.4 292.6L595.7 293L590 294.1L586.2 295.4L585.3 297.1L580.6 297.1L577.8 298L574.9 299.2L571.2 299L569.3 297.9L570.6 294.5L570.2 290.7L568.9 287.9L567.4 285L566.3 282.2L567 279.4ZM625.3 309.9L628.7 310.7L632 310.3L631.9 312.7L630.5 314.6L628.3 315.4L626.4 313.3ZM678 298L680.5 299.7L682 302.6L683.9 302.4L684.3 304.1L688 304.1L689 304.3L688 306.7L686.1 307.7L684.8 310.5L682.9 311.6L681.8 310.9L682.8 308.6L680.1 307.3L681.6 305.8L682 303.9L681.1 302L678.6 299.2ZM678 309.5L681.1 310.9L680.5 312.4L678.6 314.3L678.2 315.8L675.4 316.7L674.8 319L673.5 320.3L671.1 321L668.2 320.3L666.4 319.5L668.2 317.6L670.1 316.1L673.9 314.3L675.8 312.4L677.1 310.5ZM482.2 325.6L485 325.8L484.5 326.9L482.6 326.7ZM376.1 161.6L381.9 161L381 164L376.1 162.3ZM368 155.9L370.8 155.7L370.6 159.3L368.5 159.7ZM368.7 152.3L370.4 152.1L370.2 155L368.9 154.6ZM396.8 166.1L402.1 166.7L401.9 167.2L397 166.8ZM413.4 167.2L417.5 166.1L416.2 167.8L413.8 167.8ZM373.2 128.2L376.1 127.6L376.1 129.1L373.6 129.3ZM58.4 195.7L60.3 195.7L60.7 196.4L59 197.6L58.4 196.6ZM57.1 193.6L58.4 194L57.7 194.4ZM54.3 192.5L55.2 192.7L54.7 193ZM51.5 191.4L52.2 191.5L51.8 191.9ZM35.8 132.4L38.6 131.4L38.6 132.2L35.8 132.9ZM28.3 134.6L32.1 133.7L32.1 134.2ZM18.9 135.6L22.6 135L22.6 135.6ZM29.2 113.5L33.9 113.9L32.1 114.4ZM37.7 119.7L40 119.5L39.6 120.5Z"/>
<path fill="#fff" d="M405.3 154.8L404.7 153.1L406.2 151.2L406.6 149.3L408.5 147.8L410 146.1L412.4 145.4L415.3 146.3L413.8 147.4L415.8 149.5L419 148.6L421.3 148L419 147.4L418.5 146.1L423.2 144.6L426.4 144.2L424.5 145.9L422.8 147.6L424.1 149.3L427.5 151.2L430.7 152.9L430.9 155L427.9 155.9L424.1 155.9L421.3 155.3L418.5 154L415.6 154L411.9 155.5L408.1 155.5ZM441.1 148.9L443.9 146.5L446.8 145L449.6 145L452.4 145.5L452.4 147.8L449.2 149.3L447.3 149.7L448.6 151.8L451.5 152.9L452 155.3L454.3 156.9L452.4 158.7L453.9 162.9L450.5 164L447.1 162.9L444.9 162.1L444.7 159.7L445.8 157L443.4 154L442 152.1Z"/>
<path d="M353.1 122.5L352.4 136" stroke="#14272b" stroke-width="2.3" stroke-linecap="round"/><circle cx="352.3" cy="116" r="8.7" fill="#123f3d" stroke="#0f3231" stroke-width="1"/><circle cx="353.3" cy="114.5" r="8.5" fill="#109c89" stroke="#0e3a38" stroke-width="1.3"/>
<path d="M401.2 136.8L400.5 149.4" stroke="#14272b" stroke-width="2.3" stroke-linecap="round"/><circle cx="400.4" cy="130.3" r="8.7" fill="#123f3d" stroke="#0f3231" stroke-width="1"/><circle cx="401.4" cy="128.8" r="8.5" fill="#109c89" stroke="#0e3a38" stroke-width="1.3"/>
</svg>
<svg class="info" style="left:669.6px;top:15.4px" viewBox="0 0 20 20"><circle cx="10" cy="10" r="9.4" fill="none" stroke="#3c444b" stroke-width="1.05"/><circle cx="10" cy="5.5" r="0.75" fill="#3c444b" fill-opacity="1"/><path d="M10 7.8V14.6" stroke="#3c444b" stroke-opacity="1" stroke-width="1.05" fill="none"/></svg>
</div>

<!-- LATEST PANEL -->
<div class="panel" style="left:802px;top:448.2px;width:707px;height:410px">
 <div class="lbl" style="top:13px;left:14.7px;color:#1a242d;font-size:18px;letter-spacing:0.05px">Latest visitors</div>
 <div class="row" style="top:50.7px">
<svg style="left:0;top:0" width="120" height="56" viewBox="0 0 120 56"><g transform="translate(1 0)"><rect x="14.7" y="8.9" width="6.5" height="14.3" fill="#002b7f"/><rect x="21.2" y="8.9" width="6.5" height="14.3" fill="#fcd116"/><rect x="27.7" y="8.9" width="6.5" height="14.3" fill="#de2b1c"/><rect x="43.4" y="9.7" width="17.2" height="10.8" rx="0.8" fill="#fff" stroke="#4d5357" stroke-width="1"/><path d="M50.6 20.5L49.6 22.6H54.4L53.4 20.5M48.4 22.7H55.6" fill="none" stroke="#4d5357" stroke-width="0.9"/><path d="M69.6 10.9L76.4 9.9V15.9H69.6ZM69.6 16.9H76.4V22.9L69.6 21.9ZM77.6 9.7L86.8 8.3V15.9H77.6ZM77.6 16.9H86.8V24.3L77.6 23Z" fill="#fff" stroke="#555b60" stroke-width="1" stroke-linejoin="round"/><circle cx="103.6" cy="15.8" r="8.2" fill="#fff" stroke="#474d52" stroke-width="1"/><circle cx="103.6" cy="15.8" r="3.4" fill="none" stroke="#474d52" stroke-width="1"/><path d="M103 12.4H111 M100.9 17.9L96.4 11.9 M106.8 14.6L104 23.8" fill="none" stroke="#474d52" stroke-width="1"/></g><path d="M34.5 33.5V43M34.5 34.2H42.6V35.4H45.6V40.3H36.6L41.4 34.4" fill="none" stroke="#d3d6d8" stroke-width="0.9" stroke-linejoin="round"/></svg>
<div class="tbox"><span>00:00:00</span></div>
<div class="cty">Romania</div><div class="msg"><i>Returning visitor</i> visited <b>En Glossary</b> and 45 other pages.</div><div class="ip">IP -</div><div class="ago">5 sec ago</div>
</div>
<div class="row alt" style="top:106.7px">
<svg style="left:0;top:0" width="120" height="56" viewBox="0 0 120 56"><g transform="translate(1 0)"><rect x="14.7" y="8.9" width="6.5" height="14.3" fill="#002b7f"/><rect x="21.2" y="8.9" width="6.5" height="14.3" fill="#fcd116"/><rect x="27.7" y="8.9" width="6.5" height="14.3" fill="#de2b1c"/><rect x="43.4" y="9.7" width="17.2" height="10.8" rx="0.8" fill="#fff" stroke="#4d5357" stroke-width="1"/><path d="M50.6 20.5L49.6 22.6H54.4L53.4 20.5M48.4 22.7H55.6" fill="none" stroke="#4d5357" stroke-width="0.9"/><path d="M69.6 10.9L76.4 9.9V15.9H69.6ZM69.6 16.9H76.4V22.9L69.6 21.9ZM77.6 9.7L86.8 8.3V15.9H77.6ZM77.6 16.9H86.8V24.3L77.6 23Z" fill="#fff" stroke="#555b60" stroke-width="1" stroke-linejoin="round"/><circle cx="103.6" cy="15.8" r="8.2" fill="#fff" stroke="#474d52" stroke-width="1"/><circle cx="103.6" cy="15.8" r="3.4" fill="none" stroke="#474d52" stroke-width="1"/><path d="M103 12.4H111 M100.9 17.9L96.4 11.9 M106.8 14.6L104 23.8" fill="none" stroke="#474d52" stroke-width="1"/></g><path d="M34.5 33.5V43M34.5 34.2H42.6V35.4H45.6V40.3H36.6L41.4 34.4" fill="none" stroke="#d3d6d8" stroke-width="0.9" stroke-linejoin="round"/></svg>
<div class="tbox"><span>00:00:00</span></div>
<div class="cty">Romania</div><div class="msg"><i>New visitor</i> visited <b>En Blog What Is Refe...</b> page.</div><div class="ip">IP -</div><div class="ago">31 sec ago</div>
</div>
<div class="row" style="top:162.7px">
<svg style="left:0;top:0" width="120" height="56" viewBox="0 0 120 56"><g transform="translate(1 0)"><svg x="14.7" y="8.9" width="19.5" height="14.3" viewBox="0 0 60 44" preserveAspectRatio="none"><rect width="60" height="44" fill="#1c2f7a"/><path d="M0 0L60 44M60 0L0 44" stroke="#fff" stroke-width="9"/><path d="M0 0L60 44M60 0L0 44" stroke="#d0142c" stroke-width="4"/><path d="M30 0V44M0 22H60" stroke="#fff" stroke-width="15"/><path d="M30 0V44M0 22H60" stroke="#d0142c" stroke-width="9"/></svg><rect x="43.4" y="9.7" width="17.2" height="10.8" rx="0.8" fill="#fff" stroke="#4d5357" stroke-width="1"/><path d="M50.6 20.5L49.6 22.6H54.4L53.4 20.5M48.4 22.7H55.6" fill="none" stroke="#4d5357" stroke-width="0.9"/><path d="M69.6 10.9L76.4 9.9V15.9H69.6ZM69.6 16.9H76.4V22.9L69.6 21.9ZM77.6 9.7L86.8 8.3V15.9H77.6ZM77.6 16.9H86.8V24.3L77.6 23Z" fill="#fff" stroke="#555b60" stroke-width="1" stroke-linejoin="round"/><circle cx="103.6" cy="15.8" r="8.2" fill="#fff" stroke="#474d52" stroke-width="1"/><circle cx="103.6" cy="15.8" r="3.4" fill="none" stroke="#474d52" stroke-width="1"/><path d="M103 12.4H111 M100.9 17.9L96.4 11.9 M106.8 14.6L104 23.8" fill="none" stroke="#474d52" stroke-width="1"/></g><path d="M34.5 33.5V43M34.5 34.2H42.6V35.4H45.6V40.3H36.6L41.4 34.4" fill="none" stroke="#d3d6d8" stroke-width="0.9" stroke-linejoin="round"/></svg>
<div class="tbox"><span>00:00:00</span></div>
<div class="cty">United Kingdom</div><div class="msg"><i>New visitor</i> visited <b>En Support Premium P...</b> and 1 other pages.</div><div class="ip">IP -</div><div class="ago">3 min ago</div>
</div>
<div class="row alt" style="top:218.7px">
<svg style="left:0;top:0" width="120" height="56" viewBox="0 0 120 56"><g transform="translate(1 0)"><svg x="14.7" y="8.9" width="19.5" height="14.3" viewBox="0 0 60 44" preserveAspectRatio="none"><rect width="60" height="44" fill="#1c2f7a"/><path d="M0 0L60 44M60 0L0 44" stroke="#fff" stroke-width="9"/><path d="M0 0L60 44M60 0L0 44" stroke="#d0142c" stroke-width="4"/><path d="M30 0V44M0 22H60" stroke="#fff" stroke-width="15"/><path d="M30 0V44M0 22H60" stroke="#d0142c" stroke-width="9"/></svg><rect x="43.4" y="9.7" width="17.2" height="10.8" rx="0.8" fill="#fff" stroke="#4d5357" stroke-width="1"/><path d="M50.6 20.5L49.6 22.6H54.4L53.4 20.5M48.4 22.7H55.6" fill="none" stroke="#4d5357" stroke-width="0.9"/><path d="M69.6 10.9L76.4 9.9V15.9H69.6ZM69.6 16.9H76.4V22.9L69.6 21.9ZM77.6 9.7L86.8 8.3V15.9H77.6ZM77.6 16.9H86.8V24.3L77.6 23Z" fill="#fff" stroke="#555b60" stroke-width="1" stroke-linejoin="round"/><circle cx="103.6" cy="15.8" r="8.2" fill="#fff" stroke="#474d52" stroke-width="1"/><circle cx="103.6" cy="15.8" r="3.4" fill="none" stroke="#474d52" stroke-width="1"/><path d="M103 12.4H111 M100.9 17.9L96.4 11.9 M106.8 14.6L104 23.8" fill="none" stroke="#474d52" stroke-width="1"/></g><path d="M34.5 33.5V43M34.5 34.2H42.6V35.4H45.6V40.3H36.6L41.4 34.4" fill="none" stroke="#d3d6d8" stroke-width="0.9" stroke-linejoin="round"/></svg>
<div class="tbox"><span>00:00:00</span></div>
<div class="cty">United Kingdom</div><div class="msg"><i>New visitor</i> visited <b>En Blog What Is Refe...</b> page.</div><div class="ip">IP -</div><div class="ago">5 min ago</div>
</div>
<div class="row" style="top:274.7px">
<svg style="left:0;top:0" width="120" height="56" viewBox="0 0 120 56"><g transform="translate(1 0)"><svg x="14.7" y="8.9" width="19.5" height="14.3" viewBox="0 0 60 44" preserveAspectRatio="none"><rect width="60" height="44" fill="#10207a"/><path d="M0 0L30 22M30 0L0 22" stroke="#fff" stroke-width="5"/><path d="M0 0L30 22M30 0L0 22" stroke="#d0142c" stroke-width="2"/><path d="M15 0V22M0 11H30" stroke="#fff" stroke-width="8"/><path d="M15 0V22M0 11H30" stroke="#d0142c" stroke-width="4.5"/><circle cx="15" cy="33" r="4" fill="#fff"/><circle cx="45" cy="8" r="2.2" fill="#fff"/><circle cx="52" cy="18" r="2.2" fill="#fff"/><circle cx="38" cy="20" r="2.2" fill="#fff"/><circle cx="45" cy="36" r="2.4" fill="#fff"/><circle cx="49" cy="26" r="1.3" fill="#fff"/></svg><rect x="43.4" y="9.7" width="17.2" height="10.8" rx="0.8" fill="#fff" stroke="#4d5357" stroke-width="1"/><path d="M50.6 20.5L49.6 22.6H54.4L53.4 20.5M48.4 22.7H55.6" fill="none" stroke="#4d5357" stroke-width="0.9"/><path d="M77.9 12.6C76.8 11.5 75.6 11.3 74.6 11.4C72.2 11.8 70.9 13.6 71 15.8C71.1 19.5 72.6 23 74.3 24.4C75.6 25 76.8 23.4 78 23.4C79.2 23.4 80 25 81.1 24.6C82.8 23.8 84.2 22.2 84.9 20.6C83.2 20 82.4 18.8 82.5 17.5C82.6 15.6 83.2 14.2 84.3 13.4C83.5 12 82.4 11.3 81.1 11.4C79.8 11.4 78.9 12 77.9 12.6Z" fill="#fff" stroke="#3a4045" stroke-width="1" stroke-linejoin="round"/><path d="M78 10.6C77.9 8.7 79.3 7.4 81.2 7.1C81.4 9 79.9 10.4 78 10.6Z" fill="#3a4045" stroke="#3a4045" stroke-width="0.5"/><circle cx="104" cy="15.8" r="9" fill="#0c0c0c"/><path d="M99 9.5C100.4 8.3 102 7.7 103.5 7.7C105.4 7.7 107 8.3 108.3 9.3C109.7 10.4 110.6 11.9 110.7 13.6C110.8 15.2 110.4 16.7 109.6 17.9C108.6 19.2 107.2 20.1 105.5 20.3C104.1 20.4 102.8 20 101.7 19.2C102.6 19.1 103.3 18.7 103.9 18.2C104.8 18.2 105.6 17.8 106.2 17.2C105.6 17.2 105 17.1 104.5 16.9C103.5 17.5 102.5 17.7 101.7 17.5C101 17.2 100.5 16.7 100.4 16.1C100.4 15.6 100.7 15.1 101.1 14.8C101.8 14.7 102.5 14.3 103.1 13.7C103 13.2 102.8 12.7 102.4 12.4C101.9 12.3 101.4 12 101.1 11.7C101.1 11.2 101.4 10.8 101.7 10.5C101.1 10.4 100.5 10.4 100 10.5C99.6 10.2 99.3 9.9 99 9.5Z" fill="#fff"/></g><path d="M34.5 33.5V43M34.5 34.2H42.6V35.4H45.6V40.3H36.6L41.4 34.4" fill="none" stroke="#d3d6d8" stroke-width="0.9" stroke-linejoin="round"/></svg>
<div class="tbox"><span>00:00:00</span></div>
<div class="cty">Australia</div><div class="msg"><i>New visitor</i> visited <b>En</b> page.</div><div class="ip">IP -</div><div class="ago">8 min ago</div>
</div>
<div class="row alt" style="top:330.7px">
<svg style="left:0;top:0" width="120" height="56" viewBox="0 0 120 56"><g transform="translate(1 0)"><rect x="14.7" y="8.9" width="19.5" height="4.8" fill="#f4983a"/><rect x="14.7" y="13.7" width="19.5" height="4.8" fill="#fff"/><rect x="14.7" y="18.5" width="19.5" height="4.7" fill="#1f8a2a"/><circle cx="24.4" cy="16.1" r="1.8" fill="none" stroke="#1a2a8a" stroke-width="0.6"/><rect x="43.4" y="9.7" width="17.2" height="10.8" rx="0.8" fill="#fff" stroke="#4d5357" stroke-width="1"/><path d="M50.6 20.5L49.6 22.6H54.4L53.4 20.5M48.4 22.7H55.6" fill="none" stroke="#4d5357" stroke-width="0.9"/><path d="M77.7 6.9C75.9 6.9 75 8.2 75 10C75 12.4 73.4 14.4 72.4 17.4C71.8 19 71.6 20.4 72 21.6L75.4 24C76.8 24.3 78.8 24.3 80.4 24L83.6 21.4C84.2 19.8 83.8 18.2 83.2 16.8C82.2 14.2 80.6 12.6 80.4 10C80.4 8.2 79.6 6.9 77.7 6.9Z" fill="#141414"/><path d="M77.3 10.6C75.8 13 73.6 17.4 73.8 20.6C74.2 22.6 76 23.1 77.6 23.1C79.2 23.1 80.2 22.3 80.3 20.5C80.4 17.4 79 13 77.3 10.6Z" fill="#fff"/><path d="M69.7 23.3L70.6 20.4L72.5 20.7L75.2 24.5L73 25Z" fill="#fff" stroke="#141414" stroke-width="0.9" stroke-linejoin="round"/><path d="M85 22.4L83.9 20.4L81.8 21L80.9 24.6L82.7 25Z" fill="#fff" stroke="#141414" stroke-width="0.9" stroke-linejoin="round"/><circle cx="103.6" cy="15.8" r="8.2" fill="#fff" stroke="#474d52" stroke-width="1"/><circle cx="103.6" cy="15.8" r="3.4" fill="none" stroke="#474d52" stroke-width="1"/><path d="M103 12.4H111 M100.9 17.9L96.4 11.9 M106.8 14.6L104 23.8" fill="none" stroke="#474d52" stroke-width="1"/></g><path d="M34.5 33.5V43M34.5 34.2H42.6V35.4H45.6V40.3H36.6L41.4 34.4" fill="none" stroke="#d3d6d8" stroke-width="0.9" stroke-linejoin="round"/></svg>
<div class="tbox"><span>00:00:00</span></div>
<div class="cty">India</div><div class="msg"><i>Returning visitor</i> visited <b>En Blog How To Impro...</b> and 5 other pages.</div><div class="ip">IP -</div><div class="ago">11 min ago</div>
</div>
<svg class="info" style="left:669.9px;top:15.2px" viewBox="0 0 20 20"><circle cx="10" cy="10" r="9.4" fill="none" stroke="#3c444b" stroke-width="1.05"/><circle cx="10" cy="5.5" r="0.75" fill="#3c444b" fill-opacity="1"/><path d="M10 7.8V14.6" stroke="#3c444b" stroke-opacity="1" stroke-width="1.05" fill="none"/></svg>
</div>
</body>
</html>
